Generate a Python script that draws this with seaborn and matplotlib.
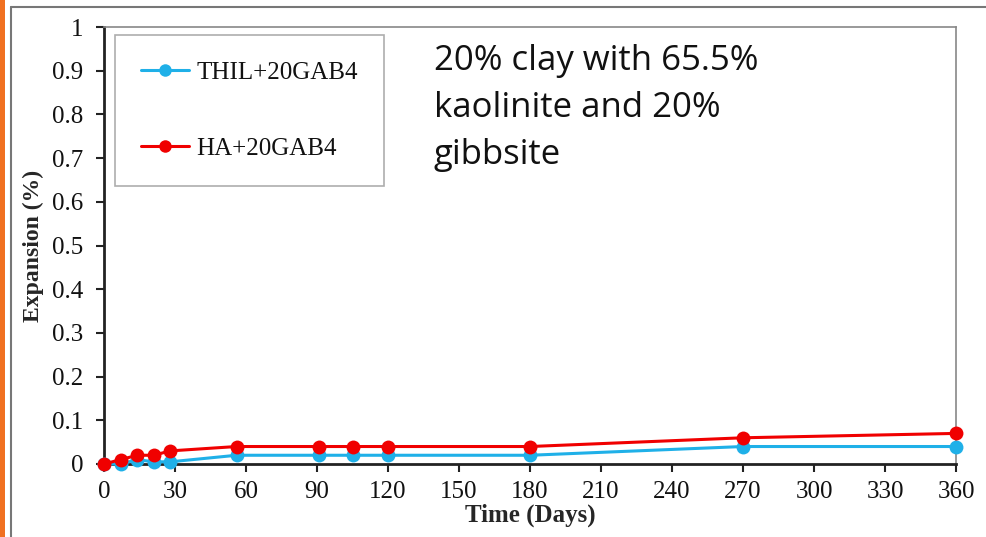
import matplotlib
matplotlib.use("Agg")
import matplotlib.pyplot as plt
import seaborn as sns
import pandas as pd
from matplotlib.lines import Line2D
from matplotlib.patches import Rectangle

days = [0, 7, 14, 21, 28, 56, 91, 105, 120, 180, 270, 360]
thil = [0, 0, 0.01, 0.005, 0.005, 0.02, 0.02, 0.02, 0.02, 0.02, 0.04, 0.04]
ha = [0, 0.01, 0.02, 0.02, 0.03, 0.04, 0.04, 0.04, 0.04, 0.04, 0.06, 0.07]
series_names = ["THIL+20GAB4", "HA+20GAB4"]
colors = ["#1fb0e8", "#f00000"]
xticks = list(range(0, 361, 30))
yticks = [0, 0.1, 0.2, 0.3, 0.4, 0.5, 0.6, 0.7, 0.8, 0.9, 1]
ytick_labels = ["0", "0.1", "0.2", "0.3", "0.4", "0.5", "0.6", "0.7", "0.8", "0.9", "1"]
note = "20% clay with 65.5%\nkaolinite and 20%\ngibbsite"

df = pd.concat([
    pd.DataFrame({"Days": days, "Expansion": thil, "Series": series_names[0]}),
    pd.DataFrame({"Days": days, "Expansion": ha, "Series": series_names[1]}),
])

sns.set_style("white")
plt.rcParams["font.family"] = ["Liberation Serif", "DejaVu Serif"]

fig = plt.figure(figsize=(9.86, 5.37), dpi=100)
ax = fig.add_axes([104/986, 1-464/537, (956-104)/986, (464-27)/537])

sns.lineplot(data=df, x="Days", y="Expansion", hue="Series", palette=colors,
             marker="o", markersize=10, markeredgewidth=0, linewidth=2.2,
             ax=ax, legend=False, clip_on=False, zorder=3)

ax.set_xlim(0, 360)
ax.set_ylim(0, 1)
ax.set_xticks(xticks)
ax.set_yticks(yticks)
ax.set_yticklabels(ytick_labels)
ax.tick_params(axis="both", which="major", direction="out", length=6, width=1.5,
               labelsize=18, colors="#222222", bottom=True, left=True)
ax.tick_params(axis="y", pad=9)
ax.tick_params(axis="x", pad=6)
for lab in ax.get_xticklabels() + ax.get_yticklabels():
    lab.set_color("#111111")
ax.set_xlabel("Time (Days)", fontsize=18, fontweight="bold", labelpad=1)
ax.set_ylabel("Expansion (%)", fontsize=17, fontweight="bold", labelpad=6)

for s in ["left", "bottom"]:
    ax.spines[s].set_color("#222222")
    ax.spines[s].set_linewidth(2)
for s in ["top", "right"]:
    ax.spines[s].set_color("#888888")
    ax.spines[s].set_linewidth(1.2)

handles = [Line2D([0], [0], color=c, marker="o", markersize=9, markeredgewidth=0, linewidth=2.2)
           for c in colors]
leg = ax.legend(handles, series_names, loc="upper left", bbox_to_anchor=(11/852, 1-8/437),
                frameon=True, fancybox=False, labelspacing=2.15,
                handlelength=1.9, handletextpad=0.3, borderpad=1.05, borderaxespad=0,
                prop={"family": ["Liberation Serif"], "size": 18})
leg.get_frame().set_edgecolor("#999999")
leg.get_frame().set_linewidth(1.2)
for t in leg.get_texts():
    t.set_color("#111111")

fig.text(434/986, 1-44/537, note, fontsize=25, family=["Open Sans", "DejaVu Sans"],
         va="top", ha="left", linespacing=1.5, color="#111111")

# outer frame
fig.add_artist(Rectangle((0, 0), 5/986, 1, transform=fig.transFigure,
                         facecolor="#f07020", edgecolor="none"))
fig.add_artist(Line2D([10.5/986, 10.5/986], [0, 1-7/537], transform=fig.transFigure,
                      color="#777777", linewidth=1.5))
fig.add_artist(Line2D([10.5/986, 1], [1-7/537, 1-7/537], transform=fig.transFigure,
                      color="#777777", linewidth=1.5))

fig.savefig("out.png", dpi=100)
